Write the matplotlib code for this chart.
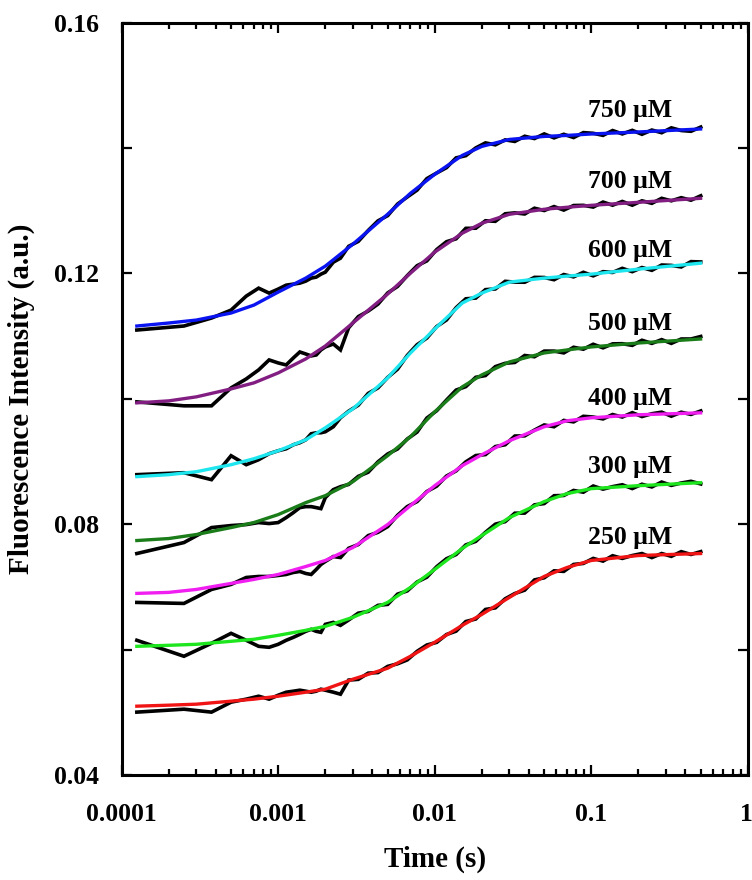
import matplotlib
matplotlib.use('Agg')
import matplotlib.pyplot as plt
from matplotlib.ticker import FixedLocator, FixedFormatter, LogLocator, NullFormatter

plt.rcParams['font.family'] = ['Liberation Serif', 'DejaVu Serif']
plt.rcParams['font.weight'] = 'bold'

# ---------------- data ----------------
# raw data times (s): early individual samples + later samples
t_early = [0.000125, 0.00025, 0.000375, 0.0005, 0.000625, 0.00075, 0.000875, 0.001,
           0.001125, 0.00125, 0.001375, 0.0015, 0.001625, 0.00175, 0.001875, 0.002,
           0.00225, 0.0025]
t_late = [0.00282, 0.00325, 0.00376, 0.00434, 0.00501, 0.00579, 0.00668, 0.00772,
          0.00891, 0.0103, 0.0119, 0.0137, 0.0158, 0.0183, 0.0211, 0.0244, 0.0282,
          0.0325, 0.0376, 0.0434, 0.0501, 0.0579, 0.0668, 0.0772, 0.0891, 0.103,
          0.119, 0.137, 0.158, 0.183, 0.211, 0.244, 0.282, 0.325, 0.376, 0.434, 0.501]
t_data = t_early + t_late

# fitted-curve times (s)
t_fit = [0.000125, 0.0002, 0.0003, 0.0005, 0.0007, 0.001, 0.0015, 0.002, 0.003, 0.005,
         0.007, 0.01, 0.015, 0.02, 0.03, 0.05, 0.07, 0.1, 0.2, 0.5]

labels = ['750 μM', '700 μM', '600 μM', '500 μM', '400 μM', '300 μM', '250 μM']

data_750 = [0.11098, 0.11162, 0.11289, 0.11416, 0.11639, 0.11766, 0.11687, 0.11751,
            0.11814, 0.11830, 0.11846, 0.11878, 0.11926, 0.11942, 0.11989, 0.12021,
            0.12180, 0.12244,
            0.12433, 0.12512, 0.12686, 0.12839, 0.12923, 0.13107, 0.13220, 0.13330,
            0.13513, 0.13603, 0.13688, 0.13844, 0.13879, 0.14003, 0.14083, 0.14052,
            0.14131, 0.14106, 0.14189, 0.14152, 0.14226, 0.14163, 0.14220, 0.14168,
            0.14247, 0.14236, 0.14203, 0.14280, 0.14226, 0.14283, 0.14220, 0.14288,
            0.14245, 0.14323, 0.14280, 0.14268, 0.14335]
fit_750 = [0.11162, 0.11210, 0.11257, 0.11369, 0.11496, 0.11703, 0.11926, 0.12117,
           0.12467, 0.12944, 0.13279, 0.13581, 0.13883, 0.14027, 0.14138, 0.14186,
           0.14202, 0.14225, 0.14257, 0.14305]

data_700 = [0.09952, 0.09889, 0.09889, 0.10175, 0.10318, 0.10462, 0.10621, 0.10573,
            0.10541, 0.10653, 0.10748, 0.10716, 0.10685, 0.10700, 0.10780, 0.10828,
            0.10875, 0.10780,
            0.11134, 0.11312, 0.11401, 0.11511, 0.11690, 0.11793, 0.11966, 0.12124,
            0.12201, 0.12382, 0.12507, 0.12553, 0.12720, 0.12722, 0.12841, 0.12832,
            0.12952, 0.12967, 0.12949, 0.13041, 0.13004, 0.13067, 0.13011, 0.13084,
            0.13087, 0.13059, 0.13139, 0.13089, 0.13149, 0.13089, 0.13159, 0.13119,
            0.13199, 0.13159, 0.13209, 0.13169, 0.13239]
fit_700 = [0.09936, 0.09968, 0.10032, 0.10159, 0.10255, 0.10414, 0.10637, 0.10843,
           0.11210, 0.11671, 0.12005, 0.12340, 0.12642, 0.12801, 0.12944, 0.13024,
           0.13056, 0.13087, 0.13135, 0.13199]

data_600 = [0.08791, 0.08822, 0.08711, 0.09093, 0.08950, 0.09029, 0.09125, 0.09172,
            0.09204, 0.09268, 0.09300, 0.09347, 0.09443, 0.09459, 0.09459, 0.09475,
            0.09555, 0.09698,
            0.09804, 0.09899, 0.10087, 0.10175, 0.10343, 0.10474, 0.10693, 0.10864,
            0.10970, 0.11154, 0.11259, 0.11454, 0.11596, 0.11608, 0.11742, 0.11753,
            0.11875, 0.11862, 0.11860, 0.11938, 0.11936, 0.11900, 0.11983, 0.11946,
            0.12019, 0.11962, 0.12029, 0.12016, 0.12082, 0.12029, 0.12095, 0.12050,
            0.12135, 0.12129, 0.12104, 0.12189, 0.12184]
fit_600 = [0.08759, 0.08791, 0.08838, 0.08950, 0.09045, 0.09172, 0.09347, 0.09538,
           0.09841, 0.10334, 0.10732, 0.11114, 0.11528, 0.11687, 0.11862, 0.11926,
           0.11958, 0.11989, 0.12069, 0.12164]

data_500 = [0.07533, 0.07708, 0.07947, 0.07979, 0.07995, 0.08027, 0.08011, 0.08027,
            0.08106, 0.08186, 0.08265, 0.08281, 0.08281, 0.08265, 0.08249, 0.08424,
            0.08552, 0.08599,
            0.08635, 0.08764, 0.08830, 0.08995, 0.09121, 0.09201, 0.09360, 0.09471,
            0.09694, 0.09811, 0.09981, 0.10140, 0.10195, 0.10344, 0.10372, 0.10514,
            0.10567, 0.10581, 0.10692, 0.10672, 0.10762, 0.10762, 0.10733, 0.10823,
            0.10792, 0.10871, 0.10814, 0.10877, 0.10880, 0.10853, 0.10935, 0.10885,
            0.10945, 0.10885, 0.10955, 0.10955, 0.10995]
fit_500 = [0.07740, 0.07772, 0.07836, 0.07947, 0.08027, 0.08154, 0.08345, 0.08456,
           0.08679, 0.09093, 0.09395, 0.09793, 0.10191, 0.10382, 0.10589, 0.10732,
           0.10780, 0.10828, 0.10891, 0.10955]

data_400 = [0.06753, 0.06737, 0.06960, 0.07040, 0.07151, 0.07167, 0.07167, 0.07183,
            0.07199, 0.07231, 0.07247, 0.07215, 0.07199, 0.07278, 0.07358, 0.07406,
            0.07485, 0.07469,
            0.07617, 0.07676, 0.07819, 0.07871, 0.07963, 0.08143, 0.08282, 0.08362,
            0.08522, 0.08608, 0.08769, 0.08851, 0.08995, 0.09096, 0.09111, 0.09239,
            0.09268, 0.09407, 0.09410, 0.09502, 0.09584, 0.09555, 0.09656, 0.09633,
            0.09722, 0.09710, 0.09680, 0.09750, 0.09710, 0.09780, 0.09718, 0.09763,
            0.09788, 0.09723, 0.09787, 0.09752, 0.09807]
fit_400 = [0.06897, 0.06913, 0.06960, 0.07056, 0.07120, 0.07199, 0.07326, 0.07422,
           0.07629, 0.07994, 0.08297, 0.08615, 0.08934, 0.09109, 0.09332, 0.09555,
           0.09650, 0.09698, 0.09746, 0.09777]

data_300 = [0.06149, 0.05894, 0.06101, 0.06260, 0.06149, 0.06053, 0.06037, 0.06085,
            0.06149, 0.06196, 0.06244, 0.06292, 0.06324, 0.06292, 0.06276, 0.06403,
            0.06435, 0.06387,
            0.06473, 0.06582, 0.06609, 0.06706, 0.06722, 0.06885, 0.06937, 0.07079,
            0.07156, 0.07323, 0.07450, 0.07517, 0.07670, 0.07727, 0.07871, 0.08001,
            0.08042, 0.08176, 0.08178, 0.08309, 0.08330, 0.08455, 0.08459, 0.08539,
            0.08511, 0.08610, 0.08560, 0.08600, 0.08630, 0.08569, 0.08638, 0.08595,
            0.08673, 0.08620, 0.08658, 0.08685, 0.08643]
fit_300 = [0.06053, 0.06069, 0.06085, 0.06133, 0.06165, 0.06228, 0.06308, 0.06371,
           0.06515, 0.06753, 0.06992, 0.07279, 0.07613, 0.07820, 0.08106, 0.08361,
           0.08488, 0.08568, 0.08615, 0.08663]

data_250 = [0.05003, 0.05050, 0.05003, 0.05162, 0.05210, 0.05257, 0.05210, 0.05273,
            0.05321, 0.05337, 0.05353, 0.05337, 0.05321, 0.05337, 0.05369, 0.05353,
            0.05321, 0.05289,
            0.05514, 0.05526, 0.05625, 0.05634, 0.05733, 0.05774, 0.05836, 0.05973,
            0.06074, 0.06116, 0.06241, 0.06295, 0.06448, 0.06489, 0.06641, 0.06666,
            0.06811, 0.06895, 0.06949, 0.07112, 0.07146, 0.07257, 0.07248, 0.07359,
            0.07375, 0.07455, 0.07412, 0.07498, 0.07455, 0.07501, 0.07533, 0.07468,
            0.07533, 0.07488, 0.07563, 0.07518, 0.07563]
fit_250 = [0.05098, 0.05114, 0.05130, 0.05178, 0.05210, 0.05257, 0.05321, 0.05369,
           0.05528, 0.05703, 0.05894, 0.06117, 0.06387, 0.06562, 0.06833, 0.07167,
           0.07310, 0.07422, 0.07501, 0.07533]

x_ticks = [0.0001, 0.001, 0.01, 0.1, 1]
x_ticklabels = ['0.0001', '0.001', '0.01', '0.1', '1']
y_ticks = [0.04, 0.06, 0.08, 0.10, 0.12, 0.14, 0.16]
y_ticklabels = ['0.04', '', '0.08', '', '0.12', '', '0.16']

# ---------------- styling ----------------
fit_colors = ['#0a14f0', '#821e82', '#1ee6ee', '#1a7d1a', '#f01ef0', '#1ee61e', '#f01414']
label_y = [0.1449, 0.1337, 0.1226, 0.1110, 0.0991, 0.0881, 0.0768]
label_x = 0.095

datasets = [data_750, data_700, data_600, data_500, data_400, data_300, data_250]
fits = [fit_750, fit_700, fit_600, fit_500, fit_400, fit_300, fit_250]

fig = plt.figure(figsize=(7.52, 8.80), dpi=100)
ax = fig.add_axes([0.1618, 0.1193, 0.8325, 0.8549])

for d, f, c, lab, ly in zip(datasets, fits, fit_colors, labels, label_y):
    ax.plot(t_data, d, color='black', lw=2.6, solid_joinstyle='miter', zorder=2)
    ax.plot(t_fit, f, color=c, lw=2.4, zorder=3)
    ax.text(label_x, ly, lab, fontsize=18.5, fontweight='bold', ha='left', va='baseline',
            zorder=4)

ax.set_xscale('log')
ax.set_xlim(1e-4, 1)
ax.set_ylim(0.04, 0.16)

ax.xaxis.set_major_locator(FixedLocator(x_ticks))
ax.xaxis.set_major_formatter(FixedFormatter(x_ticklabels))
ax.xaxis.set_minor_locator(LogLocator(base=10, subs=[2, 3, 4, 5, 6, 7, 8, 9], numticks=20))
ax.xaxis.set_minor_formatter(NullFormatter())
ax.yaxis.set_major_locator(FixedLocator(y_ticks))
ax.yaxis.set_major_formatter(FixedFormatter(y_ticklabels))

ax.tick_params(which='both', direction='in', top=True, right=True, width=1.6,
               labelsize=18.5)
ax.tick_params(which='major', length=7)
ax.tick_params(which='minor', length=4.5)
ax.tick_params(axis='x', which='major', pad=20)
ax.tick_params(axis='y', which='major', pad=16)
for lab in ax.get_xticklabels() + ax.get_yticklabels():
    lab.set_fontweight('bold')

for s in ax.spines.values():
    s.set_linewidth(2.2)

ax.set_xlabel('Time (s)', fontsize=21, fontweight='bold', labelpad=14)
ax.set_ylabel('Fluorescence Intensity (a.u.)', fontsize=21, fontweight='bold', labelpad=14)

fig.canvas.draw()
last = ax.get_xticklabels()[-1]
last.set_horizontalalignment('right')
import matplotlib.transforms as mtransforms
last.set_transform(last.get_transform() + mtransforms.ScaledTranslation(4 / 72, 0, fig.dpi_scale_trans))

fig.savefig('out.png', dpi=100)
